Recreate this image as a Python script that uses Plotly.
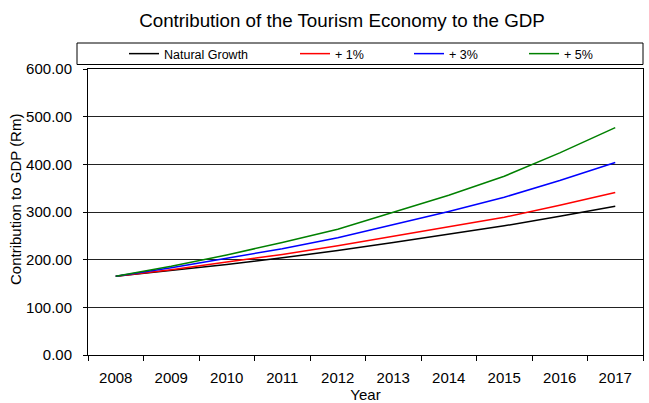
import plotly.graph_objects as go

# Contribution of tourism to GDP (R millions) under four growth scenarios
years = ["2008", "2009", "2010", "2011", "2012", "2013", "2014", "2015", "2016", "2017"]
natural_growth = [165, 177, 190, 204, 219, 236, 253, 271, 291, 312]
plus_1 = [165, 179, 195, 211, 229, 249, 268, 289, 314, 341]
plus_3 = [165, 183, 203, 223, 246, 273, 301, 331, 366, 404]
plus_5 = [165, 186, 210, 236, 264, 299, 335, 375, 424, 477]

series_names = ["Natural Growth", "+ 1%", "+ 3%", "+ 5%"]
series_values = [natural_growth, plus_1, plus_3, plus_5]
series_colors = ["#000000", "#FF0000", "#0000FF", "#008000"]

W, H = 649, 403
FONT = "Liberation Sans, Arial, sans-serif"

# plot area in pixels
L, R, T, B = 88, 643, 69, 355

# text x-position (px) of each legend entry
legend_text_x = [164, 335, 449, 564]
legend_ids = ["legend", "legend2", "legend3", "legend4"]

fig = go.Figure()
for name, vals, col, lid in zip(series_names, series_values, series_colors, legend_ids):
    fig.add_trace(go.Scatter(
        x=years, y=vals, name=name, mode="lines",
        line=dict(color=col, width=1.5),
        legend=lid,
    ))

layout_legends = {}
for lid, tx in zip(legend_ids, legend_text_x):
    layout_legends[lid] = dict(
        xref="container", yref="container",
        x=(tx - 40) / W, y=1 - 54 / H,
        xanchor="left", yanchor="middle",
        orientation="h",
        itemwidth=30,
        bgcolor="rgba(0,0,0,0)", borderwidth=0,
        font=dict(family=FONT, size=12.5, color="#000"),
    )

fig.update_layout(
    width=W, height=H,
    margin=dict(l=L, r=W - R, t=T, b=H - B, autoexpand=False),
    paper_bgcolor="white", plot_bgcolor="white",
    font=dict(family=FONT, color="#000"),
    title=dict(
        text="Contribution of the Tourism Economy to the GDP",
        xref="container", yref="container",
        x=342 / W, y=1 - 20 / H, xanchor="center", yanchor="middle",
        font=dict(family=FONT, size=18.8, color="#000"),
    ),
    showlegend=True,
    **layout_legends,
)

fig.update_xaxes(
    type="category",
    range=[-0.5, len(years) - 0.5],
    tickson="boundaries",
    ticks="outside", ticklen=5, tickcolor="#000", tickwidth=1,
    showline=True, linecolor="#000", linewidth=1, mirror=True,
    showgrid=False, zeroline=False,
    tickfont=dict(family=FONT, size=15, color="#000"),
    ticklabelstandoff=9,
    title=dict(text="Year", font=dict(family=FONT, size=15, color="#000"), standoff=3),
)

fig.update_yaxes(
    range=[0, 600], dtick=100, tickformat=".2f",
    ticks="outside", ticklen=4, tickcolor="#000", tickwidth=1,
    ticklabelstandoff=8,
    showline=True, linecolor="#000", linewidth=1, mirror=True,
    showgrid=True, gridcolor="#222", gridwidth=1, zeroline=False,
    tickfont=dict(family=FONT, size=15, color="#000"),
)

# y-axis caption
fig.add_annotation(
    text="Contribution to GDP (Rm)", textangle=-90,
    xref="paper", yref="paper",
    x=(15 - L) / (R - L), y=(B - 200) / (B - T),
    xanchor="center", yanchor="middle", showarrow=False,
    font=dict(family=FONT, size=15, color="#000"),
)

# frame around the legend row
fig.add_shape(
    type="rect", xref="paper", yref="paper",
    x0=(77 - L) / (R - L), x1=1.0,
    y0=(B - 64.5) / (B - T), y1=(B - 43) / (B - T),
    line=dict(color="#000", width=1), fillcolor="rgba(0,0,0,0)",
)

fig.write_html("out.html")
